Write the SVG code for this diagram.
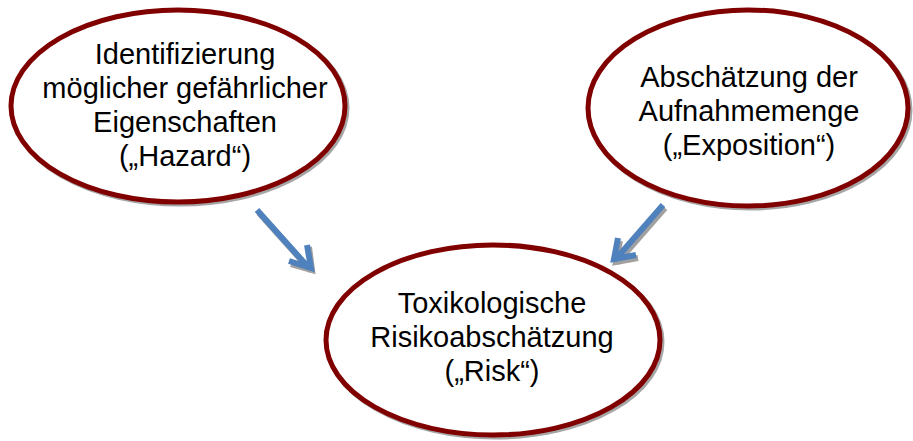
<svg xmlns="http://www.w3.org/2000/svg" width="913" height="441" viewBox="0 0 913 441">
<style>
.sh{fill:none;stroke:#a6a6a6;stroke-width:5}
.el{fill:#ffffff;stroke:#800000;stroke-width:5}
.t{font-family:"Liberation Sans",Arial,sans-serif;font-size:29px;fill:#000;text-anchor:middle}
.ar{fill:none;stroke:#4f81bd;stroke-width:6;stroke-linejoin:miter}
.as{fill:none;stroke:#a0a0a0;stroke-width:6;stroke-linejoin:miter}
</style>
<rect width="913" height="441" fill="#ffffff"/>
<g id="connectors">
  <path class="as" d="M259 213 L311 271 M291 264 L312 270 L309 247"/>
  <path class="ar" d="M257 210 L309 268 M289 261 L311 268 L307 245"/>
  <path class="as" d="M665 208 L617 263 M620 241 L616 262 L638 258"/>
  <path class="ar" d="M663 205 L615 260 M618 238 L614 259 L636 255"/>
</g>
<g id="node-hazard">
  <ellipse class="sh" cx="180" cy="108" rx="167" ry="96"/>
  <ellipse class="el" cx="178" cy="106" rx="167" ry="96"/>
  <text class="t" x="185" y="64">Identifizierung</text>
  <text class="t" x="185" y="98">möglicher gefährlicher</text>
  <text class="t" x="185" y="132">Eigenschaften</text>
  <text class="t" x="185" y="166">(„Hazard“)</text>
</g>
<g id="node-exposition">
  <ellipse class="sh" cx="750" cy="110" rx="160" ry="98"/>
  <ellipse class="el" cx="748" cy="108" rx="160" ry="98"/>
  <text class="t" x="749" y="87">Abschätzung der</text>
  <text class="t" x="749" y="121">Aufnahmemenge</text>
  <text class="t" x="749" y="155">(„Exposition“)</text>
</g>
<g id="node-risk">
  <ellipse class="sh" cx="495" cy="342" rx="167" ry="95"/>
  <ellipse class="el" cx="493" cy="340" rx="167" ry="95"/>
  <text class="t" x="492" y="313">Toxikologische</text>
  <text class="t" x="492" y="347">Risikoabschätzung</text>
  <text class="t" x="492" y="381">(„Risk“)</text>
</g>
</svg>
